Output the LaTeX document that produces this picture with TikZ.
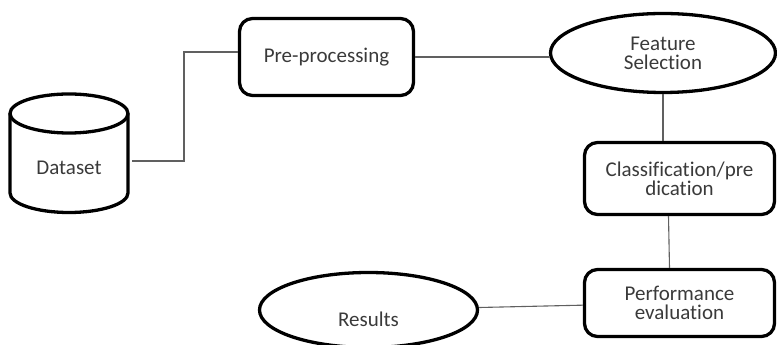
\documentclass[tikz,border=0pt]{standalone}
\usepackage{fontspec}
\setmainfont{Carlito}[Ligatures=CommonOff]
\usepackage{xcolor}
\definecolor{inkgray}{HTML}{3a3a3a}
\definecolor{wiregray}{HTML}{606060}
\usetikzlibrary{shapes,calc,positioning}
\tikzset{
    x=1pt,y=1pt,
    font=\fontsize{21}{19}\selectfont,
    block/.style ={rectangle, rounded corners=13pt, draw, line width=3.3pt, text=inkgray, align=center, minimum width=190pt, minimum height=70pt},
    term/.style ={ellipse, draw, line width=3.3pt, text=inkgray, align=center, inner sep=0pt},
    store/.style = {inner sep=0pt, outer sep=0pt, text=inkgray},
    link/.style={draw=wiregray, line width=1.1pt}
}

\begin{document}
\begin{tikzpicture}
    \useasboundingbox (0,0) rectangle (777,345);

      \node[store] (data) at (69,177) {Dataset};
      \node[block, minimum width=174pt, minimum height=77pt] (pre) at (326.5,288) {Pre-processing};
      \node[term, minimum width=225pt, minimum height=79pt] (feat) at (663,292) {Feature\\Selection};
      \node[block, minimum height=72pt] (class) at (679.5,166.5) {Classification/pre\\dication};
      \node[block, minimum height=67pt] (perf) at (679.5,42) {Performance\\evaluation};
      \node[term, minimum width=218pt, minimum height=75pt, text height=34pt, text depth=0pt] (res) at (368.5,35) {Results};

      % cylinder round the dataset label
      \draw[line width=3.3pt] ($(data.center)+(0,54.5)$) ellipse (59pt and 19.5pt);
      \draw[line width=3.3pt] ($(data.center)+(-59,54.5)$) -- ($(data.center)+(-59,-25)$)
          arc (180:360:59pt and 19.5pt) -- ($(data.center)+(59,54.5)$);

      \path[link] ($(data.center)+(63,7)$) -- ++(52,0) |- ([yshift=5pt]pre.west);
      \path[link] (pre.east) -- (pre.east -| feat.west);
      \path[link] (feat.south) -- (feat.south |- class.north);
      \path[link] ([xshift=-11pt]class.south) -- ([xshift=-10pt]perf.north);
      \path[link] (res) -- (perf);
\end{tikzpicture}
\end{document}
